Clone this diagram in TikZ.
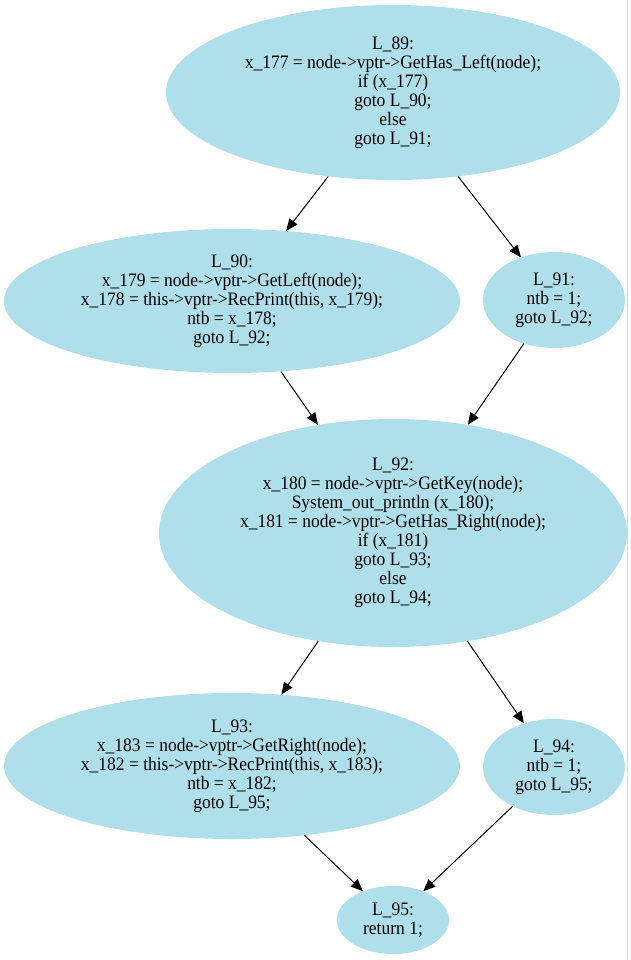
\documentclass[tikz,border=0pt]{standalone}
\usepackage{fontspec}
\setmainfont{Liberation Serif}[FakeStretch=0.92]
\usetikzlibrary{shapes.geometric,arrows.meta}
\definecolor{nodeblue}{RGB}{176,223,236}
\definecolor{framegray}{RGB}{215,215,215}
\begin{document}
\begin{tikzpicture}[x=1pt,y=-1pt,
  blk/.style={ellipse, fill=nodeblue, draw=none, inner sep=0pt, align=center,
    font=\fontsize{19}{19}\selectfont},
  edge/.style={-{Triangle[length=12pt,width=10pt]}, line width=1pt, black}]
\useasboundingbox (0,0) rectangle (631,960);
\fill[white] (0,0) rectangle (631,960);
\draw[framegray, line width=1pt] (627.5,0) -- (627.5,960);

\node[blk, minimum width=454pt, minimum height=175pt] (n89) at (393,92.5)
  {L\_89:\\x\_177 = node->vptr->GetHas\_Left(node);\\if (x\_177)\\goto L\_90;\\else\\goto L\_91;};
\node[blk, minimum width=456pt, minimum height=144pt] (n90) at (232,301)
  {L\_90:\\x\_179 = node->vptr->GetLeft(node);\\x\_178 = this->vptr->RecPrint(this, x\_179);\\ntb = x\_178;\\goto L\_92;};
\node[blk, minimum width=142pt, minimum height=96pt] (n91) at (554,300)
  {L\_91:\\ntb = 1;\\goto L\_92;};
\node[blk, minimum width=468pt, minimum height=228pt] (n92) at (393,533)
  {L\_92:\\x\_180 = node->vptr->GetKey(node);\\System\_out\_println (x\_180);\\x\_181 = node->vptr->GetHas\_Right(node);\\if (x\_181)\\goto L\_93;\\else\\goto L\_94;};
\node[blk, minimum width=456pt, minimum height=146pt] (n93) at (232,766)
  {L\_93:\\x\_183 = node->vptr->GetRight(node);\\x\_182 = this->vptr->RecPrint(this, x\_183);\\ntb = x\_182;\\goto L\_95;};
\node[blk, minimum width=142pt, minimum height=96pt] (n94) at (554,767)
  {L\_94:\\ntb = 1;\\goto L\_95;};
\node[blk, minimum width=112pt, minimum height=68pt] (n95) at (393,920)
  {L\_95:\\return 1;};

\draw[edge] (n89) -- (n90);
\draw[edge] (n89) -- (n91);
\draw[edge] (n90) -- (n92);
\draw[edge] (n91) -- (n92);
\draw[edge] (n92) -- (n93);
\draw[edge] (n92) -- (n94);
\draw[edge] (n93) -- (n95);
\draw[edge] (n94) -- (n95);
\end{tikzpicture}
\end{document}
